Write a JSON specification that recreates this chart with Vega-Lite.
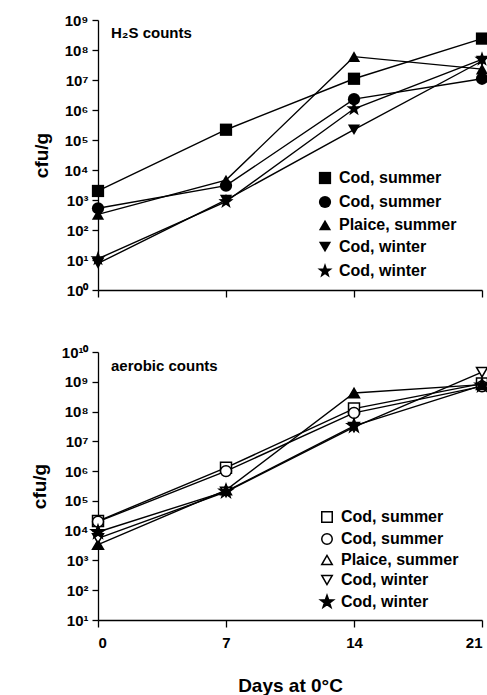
{
  "$schema": "https://vega.github.io/schema/vega-lite/v6.json",
  "background": "white",
  "padding": {"left": 30, "top": 13, "right": 0, "bottom": 0},
  "datasets": {
    "h2s": [
      {"s": "A", "d": 0, "v": 2000}, {"s": "A", "d": 7, "v": 220000}, {"s": "A", "d": 14, "v": 11000000}, {"s": "A", "d": 21, "v": 240000000},
      {"s": "B", "d": 0, "v": 530}, {"s": "B", "d": 7, "v": 3000}, {"s": "B", "d": 14, "v": 2300000}, {"s": "B", "d": 21, "v": 11000000},
      {"s": "C", "d": 0, "v": 330}, {"s": "C", "d": 7, "v": 4600}, {"s": "C", "d": 14, "v": 60000000}, {"s": "C", "d": 21, "v": 23000000},
      {"s": "D", "d": 0, "v": 7.7}, {"s": "D", "d": 7, "v": 1000}, {"s": "D", "d": 14, "v": 220000}, {"s": "D", "d": 21, "v": 43000000},
      {"s": "E", "d": 0, "v": 11}, {"s": "E", "d": 7, "v": 880}, {"s": "E", "d": 14, "v": 1100000}, {"s": "E", "d": 21, "v": 49000000}
    ],
    "aer": [
      {"s": "A", "d": 0, "v": 21000}, {"s": "A", "d": 7, "v": 1300000}, {"s": "A", "d": 14, "v": 126000000}, {"s": "A", "d": 21, "v": 870000000},
      {"s": "B", "d": 0, "v": 20000}, {"s": "B", "d": 7, "v": 1000000}, {"s": "B", "d": 14, "v": 90000000}, {"s": "B", "d": 21, "v": 700000000},
      {"s": "C", "d": 0, "v": 3400}, {"s": "C", "d": 7, "v": 230000}, {"s": "C", "d": 14, "v": 420000000}, {"s": "C", "d": 21, "v": 800000000},
      {"s": "D", "d": 0, "v": 5500}, {"s": "D", "d": 7, "v": 200000}, {"s": "D", "d": 14, "v": 30000000}, {"s": "D", "d": 21, "v": 2100000000},
      {"s": "E", "d": 0, "v": 9000}, {"s": "E", "d": 7, "v": 210000}, {"s": "E", "d": 14, "v": 33000000}, {"s": "E", "d": 21, "v": 760000000}
    ]
  },
  "spacing": 62,
  "bounds": "flush",
  "vconcat": [
    {
      "width": 384,
      "height": 270,
      "title": {"text": "H₂S counts", "anchor": "start", "frame": "group", "orient": "top", "offset": -40, "dx": 13, "fontSize": 15, "font": "Liberation Sans", "fontWeight": "bold", "color": "black", "baseline": "alphabetic"},
      "data": {"name": "h2s"},
      "layer": [
        {
          "mark": {"type": "line", "color": "black", "strokeWidth": 1.4},
          "encoding": {
            "x": {"field": "d", "type": "quantitative", "scale": {"domain": [0, 21], "nice": false}, "axis": {"values": [0, 7, 14, 21], "labels": false, "title": null, "tickSize": 7}},
            "y": {"field": "v", "type": "quantitative", "scale": {"type": "log", "domain": [1, 1000000000], "nice": false}, "axis": {"values": [1, 10, 100, 1000, 10000, 100000, 1000000, 10000000, 100000000, 1000000000], "title": "cfu/g"}},
            "detail": {"field": "s"},
            "order": {"field": "d"}
          }
        },
        {
          "mark": {"type": "point", "filled": true, "color": "black", "opacity": 1, "size": 150},
          "encoding": {
            "x": {"field": "d", "type": "quantitative"},
            "y": {"field": "v", "type": "quantitative"},
            "shape": {
              "field": "s", "type": "nominal",
              "scale": {"domain": ["A", "B", "C", "D", "E"], "range": ["square", "circle", "triangle-up", "triangle-down", "M0,-1.3L0.306,-0.421L1.236,-0.402L0.494,0.161L0.764,1.052L0,0.52L-0.764,1.052L-0.494,0.161L-1.236,-0.402L-0.306,-0.421Z"]},
              "legend": {"orient": "none", "legendX": 219, "legendY": 150, "title": null, "symbolSize": 150, "symbolFillColor": "black", "symbolStrokeColor": "black", "labelExpr": "datum.value == 'C' ? 'Plaice, summer' : (datum.value == 'A' || datum.value == 'B') ? 'Cod, summer' : 'Cod, winter'"}
            }
          }
        }
      ]
    },
    {
      "width": 384,
      "height": 268,
      "title": {"text": "aerobic counts", "anchor": "start", "frame": "group", "orient": "top", "offset": -41, "dx": 13, "fontSize": 15, "font": "Liberation Sans", "fontWeight": "bold", "color": "black", "baseline": "alphabetic"},
      "data": {"name": "aer"},
      "layer": [
        {
          "mark": {"type": "line", "color": "black", "strokeWidth": 1.4},
          "encoding": {
            "x": {"field": "d", "type": "quantitative", "scale": {"domain": [0, 21], "nice": false}, "axis": {"values": [0, 7, 14, 21], "title": "Days at 0°C", "tickSize": 7, "labelPadding": 8, "titlePadding": 26}},
            "y": {"field": "v", "type": "quantitative", "scale": {"type": "log", "domain": [10, 10000000000], "nice": false}, "axis": {"values": [10, 100, 1000, 10000, 100000, 1000000, 10000000, 100000000, 1000000000, 10000000000], "title": "cfu/g"}},
            "detail": {"field": "s"},
            "order": {"field": "d"}
          }
        },
        {
          "mark": {"type": "point", "filled": true, "strokeWidth": 1.5, "opacity": 1, "size": 120},
          "encoding": {
            "x": {"field": "d", "type": "quantitative"},
            "y": {"field": "v", "type": "quantitative"},
            "fill": {
              "field": "s", "type": "nominal",
              "scale": {"domain": ["A", "B", "C", "D", "E"], "range": ["white", "white", "white", "white", "black"]},
              "legend": {"orient": "none", "legendX": 221, "legendY": 157, "title": null, "symbolSize": 110, "symbolStrokeWidth": 1.5, "labelExpr": "datum.value == 'C' ? 'Plaice, summer' : (datum.value == 'A' || datum.value == 'B') ? 'Cod, summer' : 'Cod, winter'"}
            },
            "stroke": {
              "field": "s", "type": "nominal",
              "scale": {"domain": ["A", "B", "C", "D", "E"], "range": ["black", "black", "black", "black", "black"]},
              "legend": {"orient": "none", "legendX": 221, "legendY": 157, "title": null, "symbolSize": 110, "symbolStrokeWidth": 1.5, "labelExpr": "datum.value == 'C' ? 'Plaice, summer' : (datum.value == 'A' || datum.value == 'B') ? 'Cod, summer' : 'Cod, winter'"}
            },
            "shape": {
              "field": "s", "type": "nominal",
              "scale": {"domain": ["A", "B", "C", "D", "E"], "range": ["square", "circle", "triangle-up", "triangle-down", "M0,-1.3L0.306,-0.421L1.236,-0.402L0.494,0.161L0.764,1.052L0,0.52L-0.764,1.052L-0.494,0.161L-1.236,-0.402L-0.306,-0.421Z"]},
              "legend": {"orient": "none", "legendX": 221, "legendY": 157, "title": null, "symbolSize": 110, "symbolStrokeWidth": 1.5, "labelExpr": "datum.value == 'C' ? 'Plaice, summer' : (datum.value == 'A' || datum.value == 'B') ? 'Cod, summer' : 'Cod, winter'"}
            }
          }
        },
        {
          "transform": [{"filter": "datum.s == 'C'"}],
          "mark": {"type": "point", "filled": true, "color": "black", "opacity": 1, "size": 120, "shape": "triangle-up"},
          "encoding": {
            "x": {"field": "d", "type": "quantitative"},
            "y": {"field": "v", "type": "quantitative"}
          }
        }
      ]
    }
  ],
  "resolve": {"scale": {"shape": "independent", "fill": "independent", "stroke": "independent"}, "legend": {"shape": "independent", "fill": "independent", "stroke": "independent"}},
  "config": {
    "view": {"stroke": null},
    "font": "Liberation Sans",
    "axis": {
      "grid": false,
      "domainColor": "black",
      "domainWidth": 1.3,
      "tickColor": "black",
      "tickWidth": 1.3,
      "labelColor": "black",
      "labelFont": "Liberation Sans",
      "labelFontWeight": "bold",
      "labelFontSize": 15,
      "titleColor": "black",
      "titleFont": "Liberation Sans",
      "titleFontWeight": "bold",
      "titleFontSize": 19
    },
    "axisY": {
      "tickSize": 6,
      "labelPadding": 4,
      "titlePadding": 12,
      "labelExpr": "'10' + ['⁰','¹','²','³','⁴','⁵','⁶','⁷','⁸','⁹','¹⁰'][round(log(datum.value)/LN10)]"
    },
    "legend": {
      "padding": 0,
      "labelFont": "Liberation Sans",
      "labelFontWeight": "bold",
      "labelFontSize": 16,
      "labelColor": "black",
      "labelOffset": 6,
      "rowPadding": 4
    }
  }
}
